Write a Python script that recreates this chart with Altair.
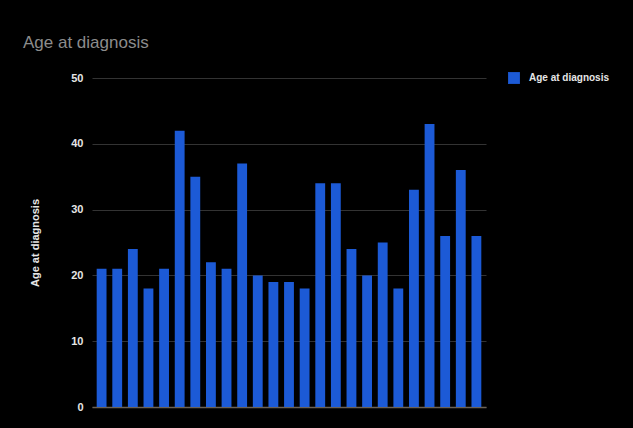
import altair as alt
import pandas as pd

patients = [f"P{i:02d}" for i in range(1, 26)]
ages = [21, 21, 24, 18, 21, 42, 35, 22, 21, 37, 20, 19, 19, 18, 34, 34, 24, 20, 25, 18, 33, 43, 26, 36, 26]
series_name = "Age at diagnosis"
y_ticks = [0, 10, 20, 30, 40, 50]

df = pd.DataFrame({"patient": patients, "age": ages, "series": [series_name] * len(ages)})

FONT = "Liberation Sans"

chart = alt.Chart(df).mark_bar(color="#1c5ad6").encode(
    x=alt.X("patient:N", sort=None,
            scale=alt.Scale(paddingInner=0.37, paddingOuter=0.3),
            axis=alt.Axis(labels=False, ticks=False, title=None, domain=True,
                          domainColor="#6b6256", domainWidth=1.5, grid=False)),
    y=alt.Y("age:Q", scale=alt.Scale(domain=[0, 50], nice=False),
            axis=alt.Axis(values=y_ticks, title="Age at diagnosis", ticks=False, domain=False,
                          gridColor="#333333", gridWidth=1, labelColor="#e6e6e6",
                          labelFont=FONT, labelFontSize=11, labelFontWeight="bold", labelPadding=9,
                          titleColor="#e6e6e6", titleFont=FONT, titleFontSize=11,
                          titleFontWeight="bold", titleX=-57, titleY=164.5,
                          titleAngle=270, titleAlign="center", titleBaseline="middle")),
    color=alt.Color("series:N", scale=alt.Scale(range=["#1c5ad6"]),
                    legend=alt.Legend(title=None, orient="none", legendX=416, legendY=-6,
                                      symbolType="square", symbolSize=140, symbolStrokeWidth=0,
                                      labelColor="#e6e6e6", labelFont=FONT, labelFontSize=10,
                                      labelFontWeight="bold", labelOffset=9)),
).properties(
    width=394, height=329,
    autosize=alt.AutoSizeParams(type="none"),
    padding={"left": 92, "top": 78, "right": 147, "bottom": 21},
    title=alt.TitleParams("Age at diagnosis", anchor="start", frame="group", dx=-69, offset=20,
                          color="#8c8c8c", font=FONT, fontSize=17, fontWeight="normal"),
    background="black",
).configure_view(stroke=None)

chart.save("out.html", embed_options={"renderer": "svg", "actions": False})
